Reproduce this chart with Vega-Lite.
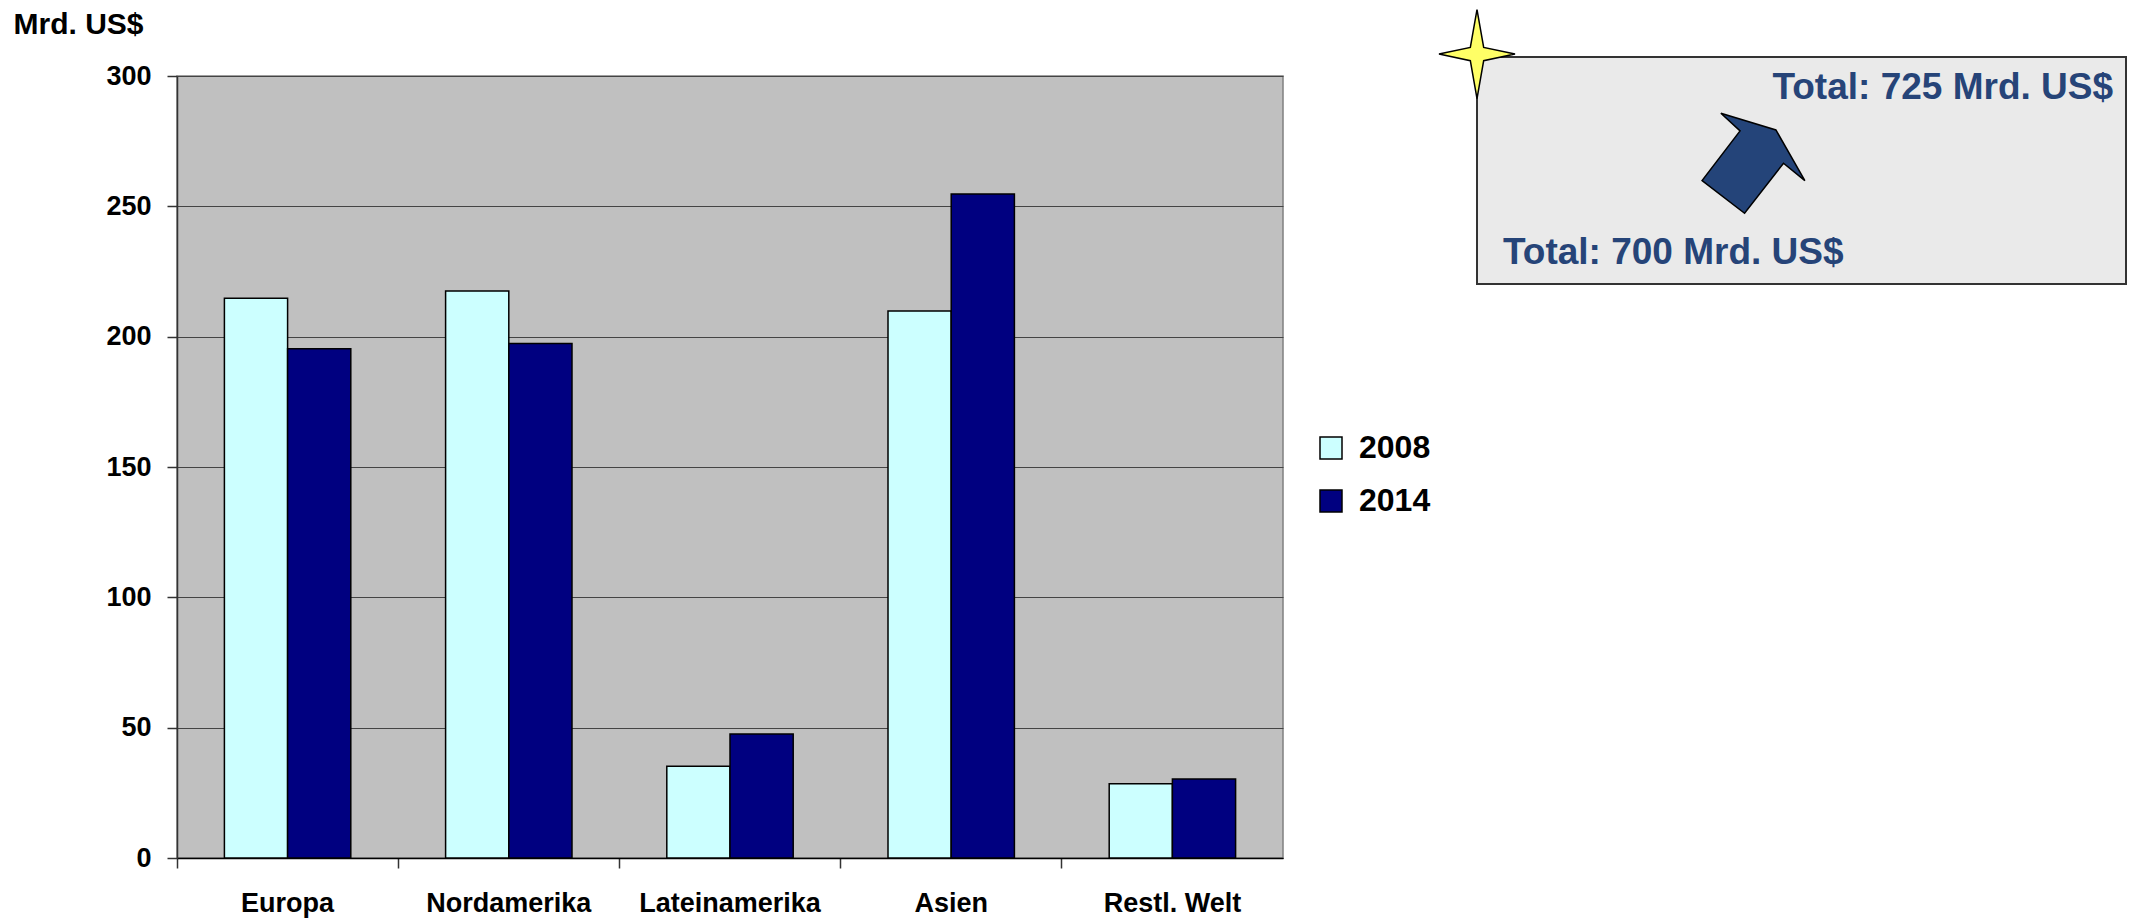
{
  "$schema": "https://vega.github.io/schema/vega-lite/v6.json",
  "autosize": {"type": "none"},
  "width": 1106,
  "height": 782,
  "padding": {"left": 177, "top": 76, "right": 848, "bottom": 61},
  "background": "white",
  "config": {
    "font": "Liberation Sans",
    "view": {"fill": "#C0C0C0", "stroke": "#808080", "strokeWidth": 1.5}
  },
  "datasets": {
    "bars": [
      {"region": "Europa", "year": "2008", "value": 214.7},
      {"region": "Europa", "year": "2014", "value": 195.4},
      {"region": "Nordamerika", "year": "2008", "value": 217.5},
      {"region": "Nordamerika", "year": "2014", "value": 197.4},
      {"region": "Lateinamerika", "year": "2008", "value": 35.2},
      {"region": "Lateinamerika", "year": "2014", "value": 47.6},
      {"region": "Asien", "year": "2008", "value": 209.8},
      {"region": "Asien", "year": "2014", "value": 254.7},
      {"region": "Restl. Welt", "year": "2008", "value": 28.5},
      {"region": "Restl. Welt", "year": "2014", "value": 30.3}
    ],
    "box": [{"name": "Gesamt"}],
    "totals": [
      {"label": "Total: 725 Mrd. US$", "pos": "oben"},
      {"label": "Total: 700 Mrd. US$", "pos": "unten"}
    ]
  },
  "resolve": {"scale": {"x": "independent", "y": "independent"}},
  "layer": [
    {
      "data": {"name": "bars"},
      "mark": {"type": "bar", "stroke": "black", "strokeWidth": 1.5},
      "encoding": {
        "x": {
          "field": "region",
          "type": "nominal",
          "sort": ["Europa", "Nordamerika", "Lateinamerika", "Asien", "Restl. Welt"],
          "scale": {"paddingInner": 0, "paddingOuter": 0},
          "axis": {
            "title": null,
            "labelAngle": 0,
            "bandPosition": 0,
            "labelOffset": 0,
            "labelLimit": 0,
            "labelFont": "Liberation Sans",
            "labelFontSize": 27,
            "labelFontWeight": "bold",
            "labelColor": "black",
            "labelBaseline": "alphabetic",
            "labelPadding": 43,
            "tickSize": 10,
            "tickColor": "#333333",
            "tickWidth": 1.5,
            "domainColor": "black",
            "domainWidth": 1.5,
            "grid": false
          }
        },
        "xOffset": {
          "field": "year",
          "type": "nominal",
          "scale": {"paddingInner": 0, "paddingOuter": 0.75}
        },
        "y": {
          "field": "value",
          "type": "quantitative",
          "scale": {"domain": [0, 300], "nice": false, "zero": true},
          "axis": {
            "values": [0, 50, 100, 150, 200, 250, 300],
            "title": "Mrd. US$",
            "titleAngle": 0,
            "titleAlign": "left",
            "titleBaseline": "alphabetic",
            "titleX": -164,
            "titleY": -43,
            "titleFont": "Liberation Sans",
            "titleFontSize": 30,
            "titleFontWeight": "bold",
            "titleColor": "black",
            "labelFont": "Liberation Sans",
            "labelFontSize": 27,
            "labelFontWeight": "bold",
            "labelColor": "black",
            "labelPadding": 16,
            "tickSize": 10,
            "tickColor": "#333333",
            "tickWidth": 1.5,
            "domainColor": "#333333",
            "domainWidth": 1.5,
            "grid": true,
            "gridColor": "#444444",
            "gridWidth": 1.2
          }
        },
        "color": {
          "field": "year",
          "type": "nominal",
          "scale": {"domain": ["2008", "2014"], "range": ["#CCFFFF", "#000080"]},
          "legend": {
            "title": null,
            "orient": "none",
            "legendX": 1138,
            "legendY": 356,
            "padding": 0,
            "symbolType": "square",
            "symbolSize": 484,
            "symbolStrokeColor": "black",
            "symbolStrokeWidth": 1.5,
            "symbolOpacity": 1,
            "labelFont": "Liberation Sans",
            "labelFontSize": 32,
            "labelFontWeight": "bold",
            "labelColor": "black",
            "labelOffset": 12,
            "rowPadding": 21
          }
        }
      }
    },
    {
      "layer": [
        {
          "data": {"name": "box"},
          "mark": {"type": "rect", "fill": "#EAEAEA", "stroke": "#333333", "strokeWidth": 2},
          "encoding": {
            "x": {"datum": 0, "type": "quantitative", "scale": {"domain": [0, 100], "range": [1300, 1949], "nice": false, "zero": false}, "axis": null},
            "x2": {"datum": 100},
            "y": {"datum": 0, "type": "quantitative", "scale": {"domain": [0, 100], "range": [208, -19], "nice": false, "zero": false}, "axis": null},
            "y2": {"datum": 100}
          }
        },
        {
          "data": {"name": "box"},
          "mark": {
            "type": "point",
            "shape": "M0,-1L0.15,-0.15L0.854,0L0.15,0.15L0,1L-0.15,0.15L-0.854,0L-0.15,-0.15Z",
            "size": 7921,
            "filled": true,
            "fill": "#FFFF66",
            "stroke": "black",
            "strokeWidth": 1.5,
            "opacity": 1
          },
          "encoding": {
            "x": {"datum": 0, "type": "quantitative"},
            "y": {"datum": 101.3, "type": "quantitative"}
          }
        },
        {
          "data": {"name": "box"},
          "mark": {
            "type": "point",
            "shape": "M-0.634,-0.973L0.436,-0.648L1,0.339L0.584,0L-0.173,0.973L-1,0.339L-0.261,-0.628Z",
            "size": 10568,
            "filled": true,
            "fill": "#244479",
            "stroke": "black",
            "strokeWidth": 1.5,
            "opacity": 1
          },
          "encoding": {
            "x": {"datum": 42.6, "type": "quantitative"},
            "y": {"datum": 53.2, "type": "quantitative"}
          }
        },
        {
          "data": {"name": "totals"},
          "transform": [{"filter": "datum.pos === 'oben'"}],
          "mark": {"type": "text", "align": "right", "baseline": "alphabetic", "font": "Liberation Sans", "fontSize": 37, "fontWeight": "bold", "color": "#264478"},
          "encoding": {
            "x": {"datum": 98, "type": "quantitative"},
            "y": {"datum": 81.5, "type": "quantitative"},
            "text": {"field": "label"}
          }
        },
        {
          "data": {"name": "totals"},
          "transform": [{"filter": "datum.pos === 'unten'"}],
          "mark": {"type": "text", "align": "left", "baseline": "alphabetic", "font": "Liberation Sans", "fontSize": 37, "fontWeight": "bold", "color": "#264478"},
          "encoding": {
            "x": {"datum": 4, "type": "quantitative"},
            "y": {"datum": 8.8, "type": "quantitative"},
            "text": {"field": "label"}
          }
        }
      ]
    }
  ]
}
